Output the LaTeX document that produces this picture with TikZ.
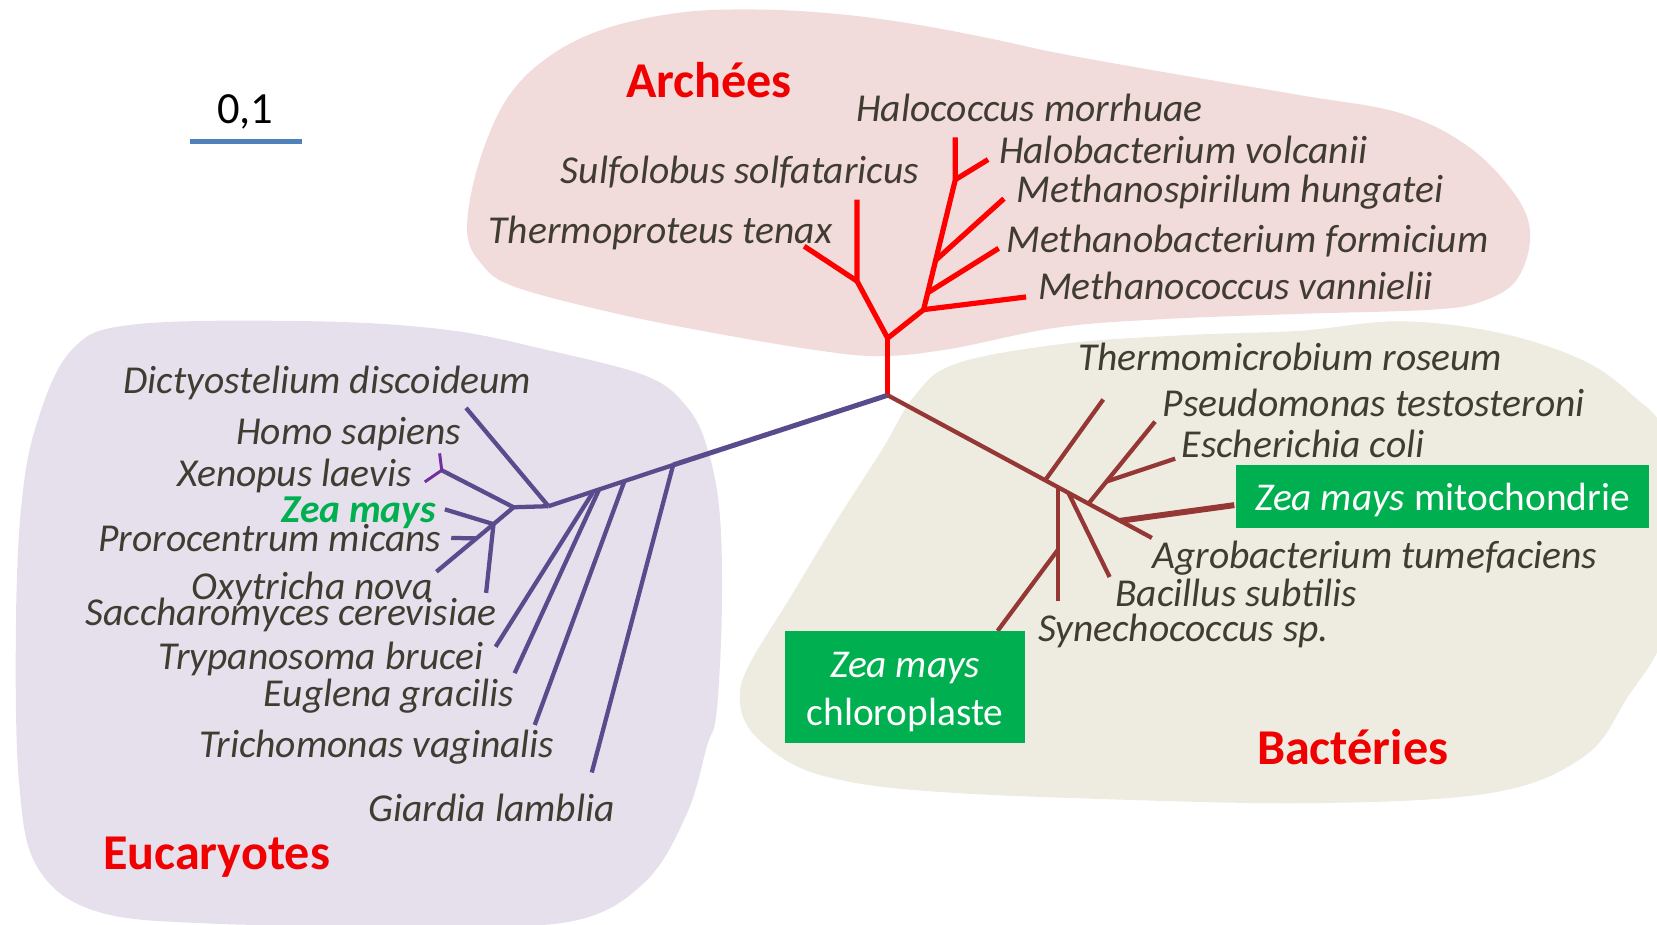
\documentclass[tikz,border=0pt]{standalone}
\usepackage{fontspec}
\setmainfont{Carlito}
\usetikzlibrary{calc}
\definecolor{txt}{HTML}{403C32}
\definecolor{grpred}{HTML}{F00000}
\definecolor{archred}{HTML}{FF0000}
\definecolor{eukblue}{HTML}{5A4B8C}
\definecolor{eukviolet}{HTML}{7030A0}
\definecolor{bacbrown}{HTML}{953735}
\definecolor{pinkbg}{HTML}{F2DCDB}
\definecolor{lavbg}{HTML}{E6E0EC}
\definecolor{beigebg}{HTML}{EEECE1}
\definecolor{zeagreen}{HTML}{00B050}
\definecolor{barblue}{HTML}{4F81BD}
\begin{document}
\begin{tikzpicture}[x=0.02cm,y=-0.02cm,
    lbl/.style={font=\fontsize{21.3}{25}\selectfont\itshape,text=txt,inner sep=0pt},
    grp/.style={font=\fontsize{27}{31}\selectfont\bfseries,text=grpred,inner sep=0pt,anchor=base},
    arch/.style={draw=archred,line width=2.8pt,line join=round},
    euk/.style={draw=eukblue,line width=2.3pt,line join=round},
    bact/.style={draw=bacbrown,line width=2.3pt,line join=round},
    zeabox/.style={fill=zeagreen,inner sep=0pt},
    zeatext/.style={text=white,inner sep=0pt,align=center,font=\fontsize{21.2}{25.5}\selectfont}]
    \useasboundingbox (0,0) rectangle (1568,875);
    \clip (0,0) rectangle (1568,875);
    % fonds
    \fill[pinkbg] plot[smooth cycle,tension=0.6] coordinates {(442,218) (452,158) (478,96) (516,56) (570,28) (643,12) (716,9) (790,13) (860,22) (935,36) (1000,50) (1100,68) (1230,90) (1325,107) (1390,139) (1435,186) (1448,224) (1435,265) (1403,285) (1356,293) (1230,297) (1100,302) (1000,310) (900,330) (833,337) (770,331) (675,315) (580,296) (486,271) (455,249)};
    \fill[lavbg] plot[smooth cycle,tension=0.6] coordinates {(68,331) (127,307) (296,304) (422,312) (517,331) (612,356) (650,385) (669,423) (681,485) (683,580) (678,675) (669,706) (650,770) (610,835) (540,872) (400,876) (200,874) (90,862) (35,820) (18,740) (15,600) (20,480) (35,400)};
    \fill[beigebg] plot[smooth cycle,tension=0.6] coordinates {(905,344) (1009,325) (1124,317) (1230,313) (1325,304) (1419,315) (1498,341) (1546,375) (1575,410) (1590,500) (1575,600) (1540,660) (1500,715) (1413,750) (1240,760) (1009,755) (870,748) (795,738) (748,722) (710,691) (700,659) (710,627) (748,565) (792,492) (835,425) (865,375)};
    % echelle
    \node[font=\fontsize{24}{28}\selectfont,anchor=base,inner sep=0pt] (sc) at (232,117) {0,1};
    \coordinate (sc1) at (180,134);
    \coordinate (sc2) at (286,134);
    \draw[barblue,line width=2.3pt] (sc1) -- (sc2);
    % centre
    \coordinate (C) at (840,374);
    % archees
    \coordinate (A0) at (840,320);
    \coordinate (A1) at (811,266);
    \coordinate (Sul) at (811,189);
    \coordinate (The) at (761,233);
    \coordinate (A2) at (874,293);
    \coordinate (A5) at (904,170);
    \coordinate (A3) at ($(A2)!0.13!(A5)$);
    \coordinate (A4) at ($(A2)!0.38!(A5)$);
    \coordinate (Hco) at (904,130);
    \coordinate (Hba) at (935,151);
    \coordinate (Msp) at (950,188);
    \coordinate (Mba) at (945,235);
    \coordinate (Mco) at (971,281);
    \draw[arch] (C) -- (A0);
    \draw[arch] (A0) -- (A1) -- (Sul);
    \draw[arch] (A1) -- (The);
    \draw[arch] (A0) -- (A2) -- (A5) -- (Hco);
    \draw[arch] (A2) -- (Mco);
    \draw[arch] (A3) -- (Mba);
    \draw[arch] (A4) -- (Msp);
    \draw[arch] (A5) -- (Hba);
    % eucaryotes
    \coordinate (E1) at (637,440);
    \coordinate (E2) at (591,455);
    \coordinate (E3) at (567,463);
    \coordinate (E4) at (561,466);
    \coordinate (N1) at (519,479);
    \coordinate (N2) at (486,480);
    \coordinate (N3) at (467,496);
    \coordinate (H) at (418,445);
    \coordinate (Gia) at (560,731);
    \coordinate (Tri) at (506,686);
    \coordinate (Eug) at (487,637);
    \coordinate (Try) at (469,612);
    \coordinate (Dic) at (441,386);
    \coordinate (Hom) at (416,429);
    \coordinate (Xen) at (402,456);
    \coordinate (Zea) at (421,482);
    \coordinate (Oxy) at (413,541);
    \coordinate (Pro) at (427,509);
    \coordinate (Sac) at (460,561);
    \draw[euk,line width=2.7pt] (C) -- (E1);
    \draw[euk] (E1) -- (N1);
    \draw[euk] (E1) -- (Gia);
    \draw[euk] (E2) -- (Tri);
    \draw[euk] (E3) -- (Eug);
    \draw[euk] (E4) -- (Try);
    \draw[euk] (N1) -- (Dic);
    \draw[euk] (N1) -- (N2) -- (H);
    \draw[eukviolet,line width=1.6pt] (Hom) -- (H) -- (Xen);
    \draw[euk] (N2) -- (N3) -- (Zea);
    \draw[euk] (N3) -- (Oxy);
    \draw[euk] ($(N3)!0.3!(Oxy)$) -- (Pro);
    \draw[euk] (N3) -- (Sac);
    % bacteries
    \coordinate (Agr) at (1090,509);
    \coordinate (B1) at ($(C)!0.596!(Agr)$);
    \coordinate (B2) at ($(C)!0.644!(Agr)$);
    \coordinate (B3) at ($(C)!0.684!(Agr)$);
    \coordinate (B4) at ($(C)!0.76!(Agr)$);
    \coordinate (B5) at ($(C)!0.88!(Agr)$);
    \coordinate (Tmr) at (1044,378);
    \coordinate (Syn) at ($(B2)+(0,108)$);
    \coordinate (Bac) at (1050,546);
    \coordinate (Pse) at (1093,399);
    \coordinate (Esc) at (1112,434);
    \coordinate (chlT) at (944,597);
    \coordinate (mitoL) at (1168,478);
    \draw[bact] (C) -- (Agr);
    \draw[bact] (B1) -- (Tmr);
    \draw[bact] (B2) -- (Syn);
    \draw[bact] ($(B2)!0.55!(Syn)$) -- (chlT);
    \draw[bact] (B3) -- (Bac);
    \draw[bact] (B4) -- (Pse);
    \draw[bact] ($(B4)!0.27!(Pse)$) -- (Esc);
    \draw[bact,line width=3.2pt] (B5) -- (mitoL);
    % boites Zea mays
    \node[zeabox,minimum width=7.8cm,minimum height=1.2cm] (mito) at (1365,470) {};
    \node[zeatext] (mitoTxt) at ($(mito.center)+(0,3)$) {\textit{Zea mays} mitochondrie};
    \node[zeabox,minimum width=4.54cm,minimum height=2.12cm] (chl) at (856.5,650) {};
    \node[zeatext] (chlTxt) at ($(chl.center)+(0,5)$) {\textit{Zea mays}\\chloroplaste};
    % noms
    \node[grp] (arch) at (671,92) {Archées};
    \node[grp] (euca) at (205,823) {Eucaryotes};
    \node[grp] (bact) at (1280,723) {Bactéries};
    \node[lbl,anchor=base west] (lHco) at (810,115) {Halococcus morrhuae};
    \node[lbl,anchor=base west] (lHba) at (945,155) {Halobacterium volcanii};
    \node[lbl,anchor=base west] (lMsp) at (962,192) {Methanospirilum hungatei};
    \node[lbl,anchor=base west] (lMba) at (952,239) {Methanobacterium formicium};
    \node[lbl,anchor=base west] (lMco) at (982,283) {Methanococcus vannielii};
    \node[lbl,anchor=base east] (lSul) at (870,174) {Sulfolobus solfataricus};
    \node[lbl,anchor=base east] (lThe) at (788,230) {Thermoproteus tenax};
    \node[lbl,anchor=base east] (lDic) at (503,372) {Dictyostelium discoideum};
    \node[lbl,anchor=base east] (lHom) at (437,421) {Homo sapiens};
    \node[lbl,anchor=base east] (lXen) at (390,460) {Xenopus laevis};
    \node[lbl,anchor=base east,text=zeagreen,font=\fontsize{21.3}{25}\selectfont\bfseries\itshape] (lZea) at (413,494) {Zea mays};
    \node[lbl,anchor=base east] (lPro) at (418,522) {Prorocentrum micans};
    \node[lbl,anchor=base east] (lOxy) at (410,567) {Oxytricha nova};
    \node[lbl,anchor=base east] (lSac) at (470,592) {Saccharomyces cerevisiae};
    \node[lbl,anchor=base east] (lTry) at (458,634) {Trypanosoma brucei};
    \node[lbl,anchor=base east] (lEug) at (487,669) {Euglena gracilis};
    \node[lbl,anchor=base east] (lTri) at (525,717) {Trichomonas vaginalis};
    \node[lbl,anchor=base east] (lGia) at (582,777) {Giardia lamblia};
    \node[lbl,anchor=base west] (lTmr) at (1020,351) {Thermomicrobium roseum};
    \node[lbl,anchor=base west] (lPse) at (1100,394) {Pseudomonas testosteroni};
    \node[lbl,anchor=base west] (lEsc) at (1118,433) {Escherichia coli};
    \node[lbl,anchor=base west] (lAgr) at (1090,538) {Agrobacterium tumefaciens};
    \node[lbl,anchor=base west] (lBac) at (1055,574) {Bacillus subtilis};
    \node[lbl,anchor=base west] (lSyn) at (982,607) {Synechococcus sp.};
\end{tikzpicture}
\end{document}
